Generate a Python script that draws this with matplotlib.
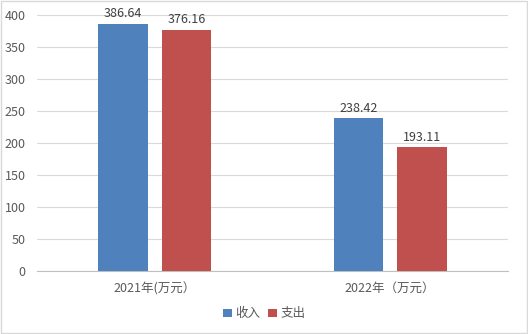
import matplotlib
matplotlib.use("Agg")
import matplotlib.pyplot as plt
import numpy as np
from matplotlib.patches import Rectangle

plt.rcParams['font.family'] = ['Noto Sans CJK SC', 'DejaVu Sans']

categories = ["2021年(万元）", "2022年（万元）"]
series_names = ["收入", "支出"]
income = [386.64, 238.42]
expense = [376.16, 193.11]
colors = ["#4f81bd", "#c0504d"]
yticks = [0, 50, 100, 150, 200, 250, 300, 350, 400]

fig = plt.figure(figsize=(5.28, 3.34), dpi=100)
fig.patch.set_facecolor("white")
fig.add_artist(Rectangle((0.002, 0.003), 0.996, 0.994, transform=fig.transFigure,
                         fill=False, edgecolor="#d9d9d9", linewidth=1.0))

ax = fig.add_axes([0.070, 0.1886, 0.892, 0.7664])
x = np.arange(len(categories))
w = 0.21
off = 0.135
b1 = ax.bar(x - off, income, w, color=colors[0], label=series_names[0], zorder=3)
b2 = ax.bar(x + off, expense, w, color=colors[1], label=series_names[1], zorder=3)

for bars, vals in ((b1, income), (b2, expense)):
    for r, v in zip(bars, vals):
        ax.text(r.get_x() + r.get_width() / 2, v + 6, f"{v:.2f}", ha="center", va="bottom",
                fontsize=9, color="#404040")

ax.set_xlim(-0.5, 1.5)
ax.set_ylim(0, 400)
ax.set_yticks(yticks)
ax.set_xticks(x)
ax.set_xticklabels(categories)
ax.tick_params(axis="both", length=0, labelsize=9, colors="#595959")
ax.tick_params(axis="x", pad=8)
ax.tick_params(axis="y", pad=8)
ax.grid(axis="y", color="#d9d9d9", linewidth=0.8, zorder=0)
for s in ("top", "right", "left"):
    ax.spines[s].set_visible(False)
ax.spines["bottom"].set_color("#bfbfbf")
ax.spines["bottom"].set_linewidth(0.8)

leg = fig.legend(handles=[b1, b2], labels=series_names, loc="center", bbox_to_anchor=(0.5, 0.06),
                 ncol=2, frameon=False, fontsize=9, handlelength=0.7, handleheight=0.7,
                 handletextpad=0.3, columnspacing=0.6)
for t in leg.get_texts():
    t.set_color("#595959")

fig.savefig("out.png", dpi=100)
